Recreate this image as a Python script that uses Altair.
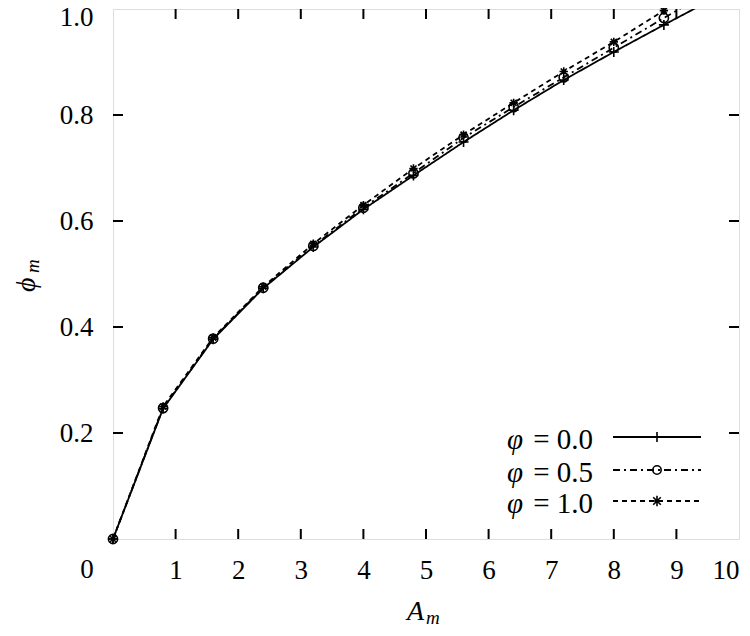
import altair as alt
import pandas as pd

# ---- data ----
A_m = [0.0, 0.8, 1.6, 2.4, 3.2, 4.0, 4.8, 5.6, 6.4, 7.2, 8.0, 8.8, 9.6]
phi_00 = [0.0, 0.246, 0.377, 0.473, 0.551, 0.622, 0.686, 0.749, 0.809, 0.866, 0.919, 0.970, 1.020]
phi_05 = [0.0, 0.247, 0.378, 0.474, 0.553, 0.625, 0.690, 0.757, 0.815, 0.871, 0.927, 0.983, 1.038]
phi_10 = [0.0, 0.250, 0.380, 0.476, 0.557, 0.630, 0.699, 0.763, 0.823, 0.882, 0.938, 0.997, 1.056]
series_names = ["φ = 0.0", "φ = 0.5", "φ = 1.0"]
series_values = [phi_00, phi_05, phi_10]
x_ticks = [0, 1, 2, 3, 4, 5, 6, 7, 8, 9, 10]
y_ticks = [0.2, 0.4, 0.6, 0.8, 1.0]
x_inner_ticks = [1, 2, 3, 4, 5, 6, 7, 8, 9]
y_inner_ticks = [0.2, 0.4, 0.6, 0.8]

# ---- styles ----
FONT = "'Liberation Serif', Tinos, 'Times New Roman', Times, 'DejaVu Serif', 'Noto Serif', serif"
FS = 27
LFS = 29
W, H = 626, 530
PLUS = "M-1,0L1,0M0,-1L0,1"
STAR = "M-1,0L1,0M0,-1L0,1M-0.72,-0.72L0.72,0.72M-0.72,0.72L0.72,-0.72"
dashes = [[1, 0], [7, 4, 2, 4], [5, 4]]
shapes = [PLUS, "circle", STAR]
sizes = [100, 70, 110]

rows = []
for name, vals in zip(series_names, series_values):
    for a, v in zip(A_m, vals):
        rows.append({"A": a, "phi": v, "series": name})
df = pd.DataFrame(rows)

xscale = alt.Scale(domain=[0, 10], nice=False, zero=False)
yscale = alt.Scale(domain=[0, 1.0], nice=False, zero=False)
xaxis = alt.Axis(values=x_ticks, format="d", title=None, domain=False, ticks=False,
                 grid=False, labelFont=FONT, labelFontSize=FS, labelColor="black",
                 labelBaseline="alphabetic", labelPadding=39, labelFlush=True,
                 labelExpr="datum.value == 0 ? '' : datum.label")
yaxis = alt.Axis(values=y_ticks, format=".1f", title=None, domain=False, ticks=False,
                 grid=False, labelFont=FONT, labelFontSize=FS, labelColor="black",
                 labelPadding=20,
                 labelOffset={"condition": {"test": "datum.value >= 1", "value": 8}, "value": 0})

base = alt.Chart(df)

lines = base.mark_line(clip=True, strokeWidth=1.8, color="black").encode(
    x=alt.X("A:Q", scale=xscale, axis=xaxis),
    y=alt.Y("phi:Q", scale=yscale, axis=yaxis),
    strokeDash=alt.StrokeDash("series:N", scale=alt.Scale(domain=series_names, range=dashes),
                              legend=None),
    detail="series:N",
)

points = base.transform_filter("datum.phi <= 1.0").mark_point(
    filled=False, color="black", strokeWidth=1.6, opacity=1
).encode(
    x=alt.X("A:Q", scale=xscale, axis=xaxis),
    y=alt.Y("phi:Q", scale=yscale, axis=yaxis),
    shape=alt.Shape("series:N", scale=alt.Scale(domain=series_names, range=shapes), legend=None),
    size=alt.Size("series:N", scale=alt.Scale(domain=series_names, range=sizes), legend=None),
)

# inward tick marks on all four sides
xt = alt.Chart(pd.DataFrame({"t": x_inner_ticks}))
yt = alt.Chart(pd.DataFrame({"t": y_inner_ticks}))
tick_style = dict(color="black", strokeWidth=2)
ticks = [
    xt.mark_rule(**tick_style).encode(x=alt.X("t:Q", scale=xscale, axis=xaxis),
                                      y=alt.value(H), y2=alt.value(H - 10)),
    xt.mark_rule(**tick_style).encode(x=alt.X("t:Q", scale=xscale, axis=xaxis),
                                      y=alt.value(0), y2=alt.value(10)),
    yt.mark_rule(**tick_style).encode(y=alt.Y("t:Q", scale=yscale, axis=yaxis),
                                      x=alt.value(0), x2=alt.value(10)),
    yt.mark_rule(**tick_style).encode(y=alt.Y("t:Q", scale=yscale, axis=yaxis),
                                      x=alt.value(W), x2=alt.value(W - 10)),
]

one = alt.Chart(pd.DataFrame({"k": [0]}))

# extra "0" label left of origin, axis titles
texts = [
    one.mark_text(text="0", font=FONT, fontSize=FS, align="center", baseline="alphabetic",
                  color="black").encode(x=alt.value(-26), y=alt.value(569)),
    one.mark_text(text="A", font=FONT, fontSize=28, fontStyle="italic", align="left",
                  baseline="alphabetic", color="black").encode(x=alt.value(294), y=alt.value(611)),
    one.mark_text(text="m", font=FONT, fontSize=19, fontStyle="italic", align="left",
                  baseline="alphabetic", color="black").encode(x=alt.value(313), y=alt.value(615)),
    one.mark_text(text="ϕ", font=FONT, fontSize=28, fontStyle="italic", align="left",
                  baseline="alphabetic", angle=270, color="black").encode(x=alt.value(-78), y=alt.value(283)),
    one.mark_text(text="m", font=FONT, fontSize=19, fontStyle="italic", align="left",
                  baseline="alphabetic", angle=270, color="black").encode(x=alt.value(-74), y=alt.value(264)),
]

# key inside the plot, bottom right
legend_layers = []
row_y = [428, 461, 492]
for i, name in enumerate(series_names):
    ld = alt.Chart(pd.DataFrame({"series": [name]}))
    legend_layers.append(
        ld.mark_text(text=name.split(" ", 1)[1], font=FONT, fontSize=LFS, align="right",
                     baseline="middle", color="black").encode(x=alt.value(480), y=alt.value(row_y[i] + 3))
    )
    legend_layers.append(
        ld.mark_text(text="φ", font=FONT, fontSize=LFS, fontStyle="italic", align="right",
                     baseline="middle", color="black").encode(x=alt.value(410), y=alt.value(row_y[i] + 3))
    )
    legend_layers.append(
        ld.mark_rule(color="black", strokeWidth=1.8, strokeDash=dashes[i]).encode(
            x=alt.value(500), x2=alt.value(588), y=alt.value(row_y[i]))
    )
    legend_layers.append(
        ld.mark_point(filled=False, color="black", strokeWidth=1.6, opacity=1,
                      shape=shapes[i], size=sizes[i]).encode(x=alt.value(544), y=alt.value(row_y[i]))
    )

chart = alt.layer(lines, points, *ticks, *texts, *legend_layers).properties(
    width=W, height=H,
    autosize=alt.AutoSizeParams(type="none"),
    padding={"left": 105, "top": 1, "right": 3, "bottom": 89},
).configure_view(stroke="black", strokeWidth=2).configure(background="white")

chart.save("out.html", embed_options={"renderer": "svg", "actions": False})
